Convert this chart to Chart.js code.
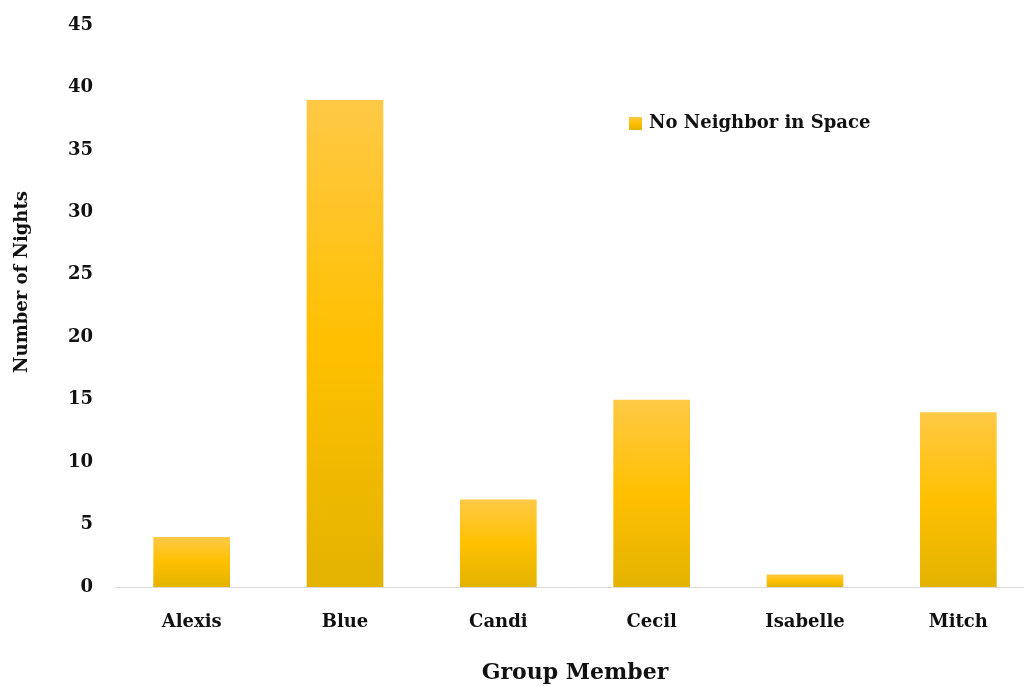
<!DOCTYPE html>
<html lang="en">
<head>
    <meta charset="UTF-8">
    <title>Number of Nights by Group Member</title>
    <script src="https://cdn.jsdelivr.net/npm/chart.js"></script>
    <style>
        html, body { margin: 0; padding: 0; background: #fff; overflow: hidden; }
        #chartContainer { position: relative; width: 1035px; height: 686px; }
    </style>
</head>
<body>

    <div id="chartContainer">
        <canvas id="myChart"></canvas>
    </div>

<script>
    const membros = ['Alexis', 'Blue', 'Candi', 'Cecil', 'Isabelle', 'Mitch'];
    const noites = [4, 39, 7, 15, 1, 14];
    const serieNome = 'No Neighbor in Space';
    const tituloY = 'Number of Nights';
    const tickMax = 45;
    const tickStep = 5;

    const fonte = 'DejaVu Serif';
    const corTexto = '#111111';

    // gradiente de cada barra, do topo ate a base
    function gradienteBarra(ctx, yTop, yBase) {
        const g = ctx.createLinearGradient(0, yTop, 0, yBase);
        g.addColorStop(0, '#FFC946');
        g.addColorStop(0.5, '#FFC000');
        g.addColorStop(1, '#E3B300');
        return g;
    }

    // legenda e titulo do eixo y desenhados a mao
    const extras = {
        id: 'extras',
        afterDraw(chart) {
            const { ctx, chartArea } = chart;
            const x = chartArea.left + 514;
            const y = chartArea.top + 98;
            ctx.save();
            ctx.fillStyle = gradienteBarra(ctx, y - 6, y + 7);
            ctx.fillRect(x, y - 6, 13, 13);
            ctx.fillStyle = corTexto;
            ctx.font = 'bold 18px "' + fonte + '"';
            ctx.textBaseline = 'middle';
            ctx.textAlign = 'left';
            ctx.fillText(chart.data.datasets[0].label, x + 20, y);

            // titulo vertical um pouco acima do centro
            ctx.translate(22, chartArea.top + 257);
            ctx.rotate(-Math.PI / 2);
            ctx.textAlign = 'center';
            ctx.fillText(tituloY, 0, 0);
            ctx.restore();
        }
    };

    const ctx = document.getElementById('myChart').getContext('2d');

    const myChart = new Chart(ctx, {
        type: 'bar',
        data: {
            labels: membros,
            datasets: [{
                label: serieNome,
                data: noites,
                backgroundColor: (c) => {
                    const chart = c.chart;
                    if (!chart.chartArea || c.raw === undefined) return '#FFC000';
                    const y = chart.scales.y;
                    return gradienteBarra(chart.ctx, y.getPixelForValue(c.raw), y.getPixelForValue(0));
                },
                borderWidth: 0,
                barPercentage: 0.5,
                categoryPercentage: 1
            }]
        },
        options: {
            responsive: true,
            maintainAspectRatio: false,
            animation: false,
            layout: { padding: { top: 25, left: 0, right: 0, bottom: 0 } },
            plugins: {
                legend: { display: false },
                tooltip: { enabled: false }
            },
            scales: {
                x: {
                    grid: { display: false, drawTicks: false },
                    border: { display: true, color: '#DADADA', width: 1 },
                    ticks: {
                        color: corTexto,
                        padding: 25,
                        font: { family: fonte, size: 18, weight: 'bold' }
                    },
                    title: {
                        display: true,
                        text: 'Group Member',
                        color: corTexto,
                        padding: { top: 0, bottom: 0 },
                        font: { family: fonte, size: 22, weight: 'bold' }
                    },
                    afterFit(scale) { scale.height = 99; }
                },
                y: {
                    min: 0,
                    max: tickMax,
                    grid: { display: false, drawTicks: false },
                    border: { display: false },
                    ticks: {
                        stepSize: tickStep,
                        color: corTexto,
                        padding: 22,
                        font: { family: fonte, size: 18, weight: 'bold' }
                    },
                    afterFit(scale) {
                        scale.width = 115;
                        // sem folga extra em cima: o topo fica no padding do layout
                        scale.paddingTop = 0;
                        scale.paddingBottom = 0;
                    }
                }
            }
        },
        plugins: [extras]
    });
</script>

</body>
</html>
